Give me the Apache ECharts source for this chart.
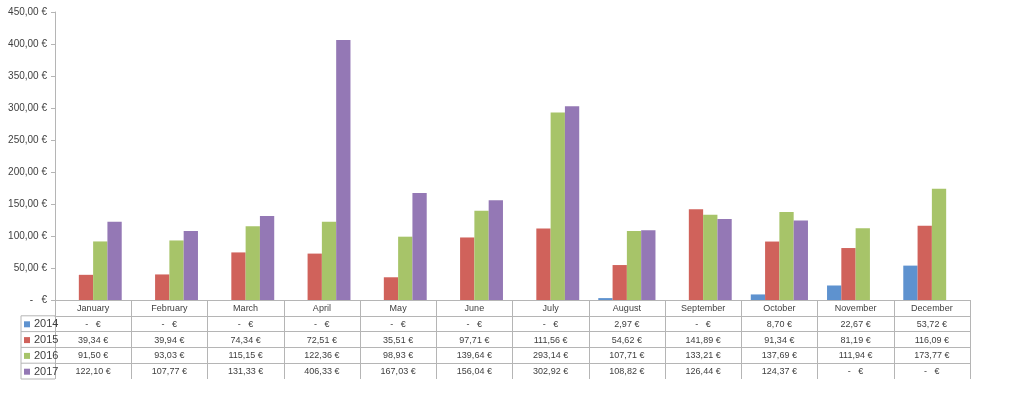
<!DOCTYPE html>
<html>
<head>
<meta charset="utf-8">
<script src="https://cdn.jsdelivr.net/npm/echarts@6/dist/echarts.min.js"></script>
<style>html,body{margin:0;padding:0;background:#fff}#c{width:1024px;height:393px}</style>
</head>
<body>
<div id="c"></div>
<script>
const months = ['January','February','March','April','May','June','July','August','September','October','November','December'];
const years = ['2014','2015','2016','2017'];
const v2014 = [0,0,0,0,0,0,0,2.97,0,8.70,22.67,53.72];
const v2015 = [39.34,39.94,74.34,72.51,35.51,97.71,111.56,54.62,141.89,91.34,81.19,116.09];
const v2016 = [91.50,93.03,115.15,122.36,98.93,139.64,293.14,107.71,133.21,137.69,111.94,173.77];
const v2017 = [122.10,107.77,131.33,406.33,167.03,156.04,302.92,108.82,126.44,124.37,0,0];
const yTicks = [0,50,100,150,200,250,300,350,400,450];

const colors = ['#5e92cf','#d0625b','#a7c469','#9478b5'];
const seriesVals = [v2014,v2015,v2016,v2017];
const FONT = 'Liberation Sans';
const TXT = '#404040';
const LINE = '#b5b5b5';

function eur(v){
  if(!v) return '-   €';
  return v.toFixed(2).replace('.', ',') + ' €';
}

const G = {left:55, right:54, top:12, bottom:93};
const ROW = 15.8;
const tableTop = 393 - G.bottom;

const xAxes = [{
  type:'category', data:months, position:'bottom', gridIndex:0,
  axisLine:{show:true, lineStyle:{color:LINE}},
  axisTick:{show:true, interval:0, length:79, lineStyle:{color:LINE}},
  axisLabel:{interval:0, color:TXT, fontFamily:FONT, fontSize:9, margin:4}
}];
seriesVals.forEach((arr,i)=>{
  xAxes.push({
    type:'category', data:arr.map(eur), position:'bottom', gridIndex:0,
    offset: ROW*(i+1),
    axisLine:{show:true, lineStyle:{color:LINE}},
    axisTick:{show:false},
    axisLabel:{interval:0, color:TXT, fontFamily:FONT, fontSize:9, margin:4}
  });
});

const series = years.map((y,i)=>({
  name:y, type:'bar', xAxisIndex:0, data:seriesVals[i],
  itemStyle:{color:colors[i]},
  barGap:'0%', barCategoryGap:'25%', animation:false
}));

const legends = years.map((y,i)=>({
  data:[y], orient:'vertical', left:24, top:tableTop+ROW*(i+1)+1,
  icon:'rect', itemWidth:6, itemHeight:6, itemGap:0,
  textStyle:{color:TXT, fontFamily:FONT, fontSize:11, lineHeight:14, height:14, padding:[1,0,0,-1]},
  padding:0, selectedMode:false
}));

const chart = echarts.init(document.getElementById('c'), null, {renderer:'canvas'});
chart.setOption({
  animation:false,
  grid:G,
  legend:legends,
  xAxis:xAxes,
  yAxis:{
    type:'value', min:0, max:450, interval:50,
    axisLine:{show:true, lineStyle:{color:LINE}},
    axisTick:{show:true, length:4, lineStyle:{color:LINE}},
    splitLine:{show:false},
    axisLabel:{color:TXT, fontFamily:FONT, fontSize:10, margin:8,
      formatter:v=> v===0 ? '-   €' : v.toFixed(2).replace('.', ',') + ' €'}
  },
  graphic:[
    {type:'line', shape:{x1:21,y1:tableTop+ROW,x2:55,y2:tableTop+ROW}, style:{stroke:LINE,lineWidth:1}},
    {type:'line', shape:{x1:21,y1:tableTop+ROW*2,x2:55,y2:tableTop+ROW*2}, style:{stroke:LINE,lineWidth:1}},
    {type:'line', shape:{x1:21,y1:tableTop+ROW*3,x2:55,y2:tableTop+ROW*3}, style:{stroke:LINE,lineWidth:1}},
    {type:'line', shape:{x1:21,y1:tableTop+ROW*4,x2:55,y2:tableTop+ROW*4}, style:{stroke:LINE,lineWidth:1}},
    {type:'line', shape:{x1:21,y1:tableTop+ROW*5,x2:55,y2:tableTop+ROW*5}, style:{stroke:LINE,lineWidth:1}},
    {type:'line', shape:{x1:21,y1:tableTop+ROW,x2:21,y2:tableTop+ROW*5}, style:{stroke:LINE,lineWidth:1}}
  ],
  series:series
});
</script>
</body>
</html>
